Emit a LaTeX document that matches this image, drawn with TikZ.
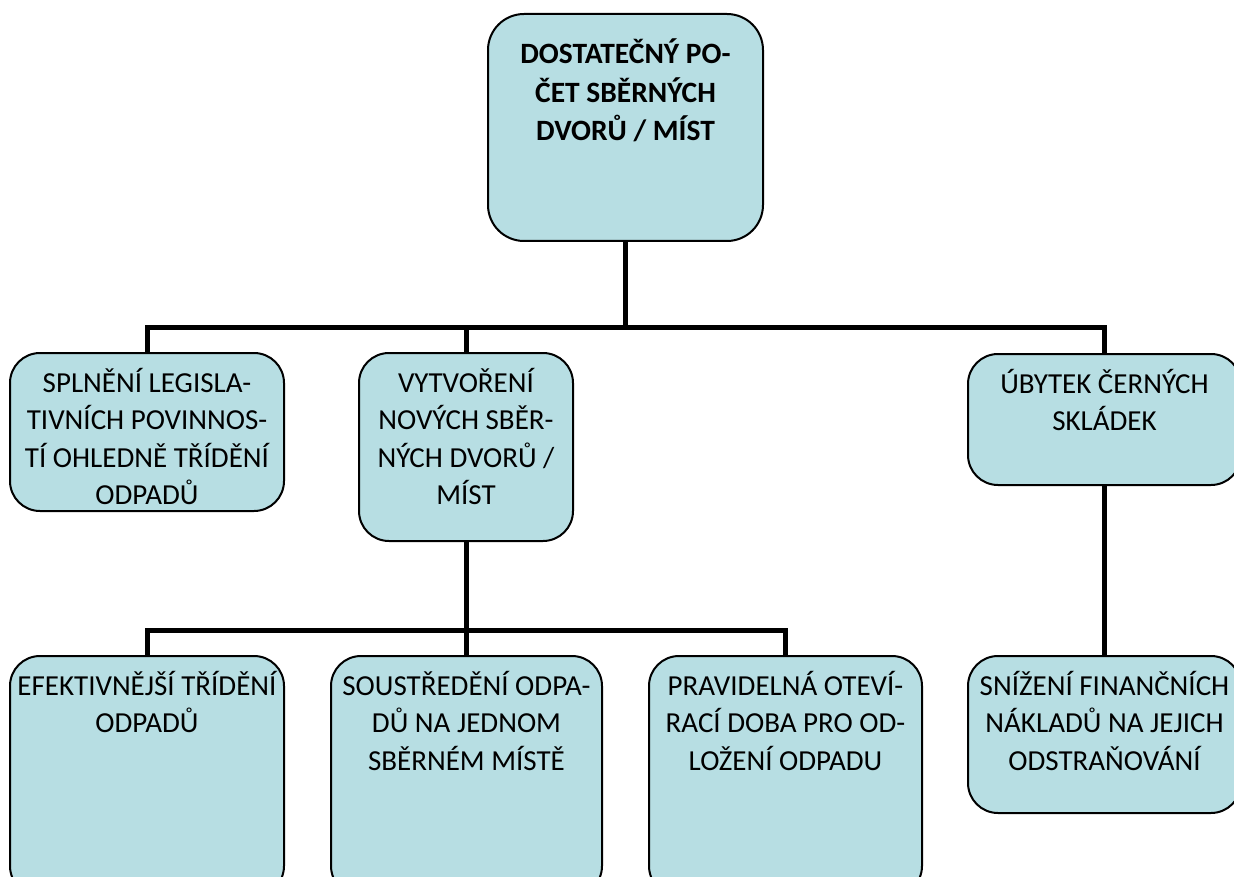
\documentclass[tikz,border=0pt]{standalone}
\usepackage{fontspec}
\setmainfont{Carlito}
\usepackage{tikz}
\usetikzlibrary{positioning}
\definecolor{boxfill}{HTML}{B7DEE3}
\tikzset{box/.style={draw=black,line width=2pt,fill=boxfill,rounded corners=30pt,anchor=north west,inner sep=0pt},
txt/.style={align=center,inner sep=0pt,font=\fontsize{29}{37.5}\selectfont},
link/.style={line width=5pt}}

\begin{document}
\begin{tikzpicture}[x=1pt,y=-1pt]
\useasboundingbox (0,0) rectangle (1234,877);
% boxes
\node[box,minimum width=275pt,minimum height=227pt,rounded corners=36pt] (top) at (487,13) {};
\node[box,minimum width=274pt,minimum height=158pt] (legis) at (9,352) {};
\node[box,minimum width=214pt,minimum height=188pt] (vytv) at (358,352) {};
\node[box,minimum width=273pt,minimum height=131pt] (ubytek) at (967,353) {};
\node[box,minimum width=274pt,minimum height=240pt] (efekt) at (9,655) {};
\node[box,minimum width=271pt,minimum height=240pt] (soustr) at (330,655) {};
\node[box,minimum width=273pt,minimum height=240pt] (prav) at (648,655) {};
\node[box,minimum width=273pt,minimum height=157pt] (snizeni) at (967,655) {};
% texts
\node[txt,font=\fontsize{29.5}{38.5}\selectfont\bfseries,below=26pt of top.north] (toptxt) {DOSTATEČNÝ PO-\\ČET SBĚRNÝCH\\DVORŮ / MÍST};
\node[txt,below=16pt of legis.north] (legistxt) {SPLNĚNÍ LEGISLA-\\TIVNÍCH POVINNOS-\\TÍ OHLEDNĚ TŘÍDĚNÍ\\ODPADŮ};
\node[txt,below=16pt of vytv.north] (vytvtxt) {VYTVOŘENÍ\\NOVÝCH SBĚR-\\NÝCH DVORŮ /\\MÍST};
\node[txt,below=16pt of ubytek.north] (ubytektxt) {ÚBYTEK ČERNÝCH\\SKLÁDEK};
\node[txt,below=16pt of efekt.north] (efekttxt) {EFEKTIVNĚJŠÍ TŘÍDĚNÍ\\ODPADŮ};
\node[txt,below=16pt of soustr.north] (soustrtxt) {SOUSTŘEDĚNÍ ODPA-\\DŮ NA JEDNOM\\SBĚRNÉM MÍSTĚ};
\node[txt,below=16pt of prav.north] (pravtxt) {PRAVIDELNÁ OTEVÍ-\\RACÍ DOBA PRO OD-\\LOŽENÍ ODPADU};
\node[txt,below=16pt of snizeni.north] (snizenitxt) {SNÍŽENÍ FINANČNÍCH\\NÁKLADŮ NA JEJICH\\ODSTRAŇOVÁNÍ};
% connectors
\coordinate (bus1) at (top.south |- 0,327);
\coordinate (bus2) at (vytv.south |- 0,630);
\draw[link] (top.south) -- (bus1);
\draw[link] (legis.north) |- (bus1) -| (ubytek.north);
\draw[link] (vytv.north) -- (vytv.north |- bus1);
\draw[link] (vytv.south) -- (bus2);
\draw[link] (efekt.north) |- (bus2) -| (prav.north);
\draw[link] (soustr.north) -- (soustr.north |- bus2);
\draw[link] (ubytek.south) -- (snizeni.north);
\end{tikzpicture}
\end{document}
